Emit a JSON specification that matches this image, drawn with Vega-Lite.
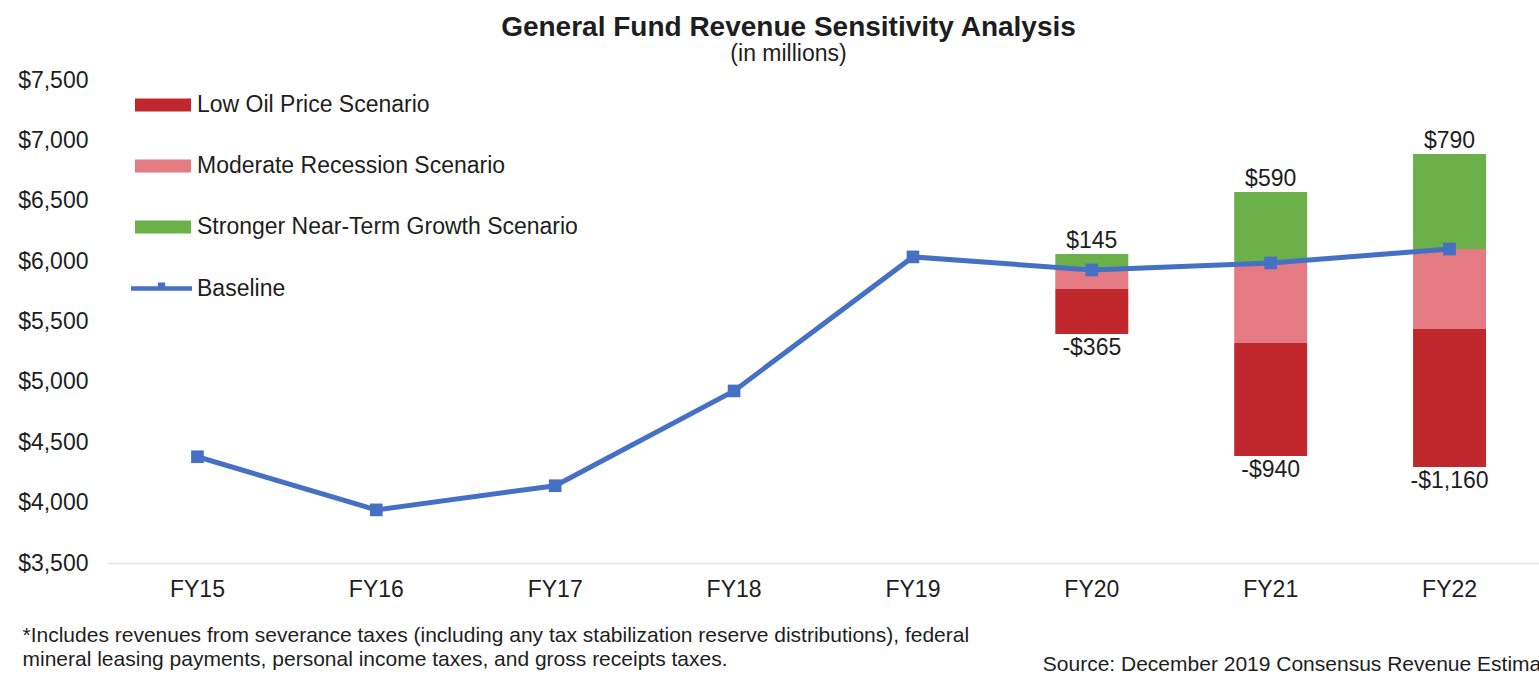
{
  "$schema": "https://vega.github.io/schema/vega-lite/v6.json",
  "width": 1431,
  "height": 483,
  "autosize": {"type": "none"},
  "padding": {"left": 108, "top": 80, "right": 0, "bottom": 113},
  "background": "white",
  "config": {
    "font": "Liberation Sans",
    "view": {"stroke": null}
  },
  "title": {
    "text": "General Fund Revenue Sensitivity Analysis",
    "subtitle": "(in millions)",
    "fontSize": 28,
    "fontWeight": "bold",
    "subtitleFontSize": 23,
    "color": "#1e1e1e",
    "subtitleColor": "#1e1e1e",
    "anchor": "middle",
    "frame": "group",
    "offset": 3,
    "dx": -35,
    "subtitlePadding": 1
  },
  "datasets": {
    "baseline": [
      {"year": "FY15", "value": 4380, "series": "Baseline"},
      {"year": "FY16", "value": 3940, "series": "Baseline"},
      {"year": "FY17", "value": 4140, "series": "Baseline"},
      {"year": "FY18", "value": 4925, "series": "Baseline"},
      {"year": "FY19", "value": 6035, "series": "Baseline"},
      {"year": "FY20", "value": 5927, "series": "Baseline"},
      {"year": "FY21", "value": 5985, "series": "Baseline"},
      {"year": "FY22", "value": 6100, "series": "Baseline"}
    ],
    "bars": [
      {"year": "FY20", "scenario": "Stronger Near-Term Growth Scenario", "low": 5927, "high": 6059},
      {"year": "FY20", "scenario": "Moderate Recession Scenario", "low": 5769, "high": 5927},
      {"year": "FY20", "scenario": "Low Oil Price Scenario", "low": 5396, "high": 5769},
      {"year": "FY21", "scenario": "Stronger Near-Term Growth Scenario", "low": 5985, "high": 6572},
      {"year": "FY21", "scenario": "Moderate Recession Scenario", "low": 5322, "high": 5985},
      {"year": "FY21", "scenario": "Low Oil Price Scenario", "low": 4386, "high": 5322},
      {"year": "FY22", "scenario": "Stronger Near-Term Growth Scenario", "low": 6100, "high": 6887},
      {"year": "FY22", "scenario": "Moderate Recession Scenario", "low": 5438, "high": 6100},
      {"year": "FY22", "scenario": "Low Oil Price Scenario", "low": 4295, "high": 5438}
    ],
    "labels": [
      {"year": "FY20", "top": 6059, "bottom": 5396, "up": "$145", "down": "-$365"},
      {"year": "FY21", "top": 6572, "bottom": 4386, "up": "$590", "down": "-$940"},
      {"year": "FY22", "top": 6887, "bottom": 4295, "up": "$790", "down": "-$1,160"}
    ],
    "notes": [
      {"year": "FY20", "value": 3500, "note": "Source: December 2019 Consensus Revenue Estimates"}
    ]
  },
  "layer": [
    {
      "data": {"name": "bars"},
      "mark": {"type": "bar", "width": {"band": 0.408}},
      "encoding": {
        "x": {
          "field": "year",
          "type": "nominal",
          "sort": ["FY15", "FY16", "FY17", "FY18", "FY19", "FY20", "FY21", "FY22"],
          "scale": {"domain": ["FY15", "FY16", "FY17", "FY18", "FY19", "FY20", "FY21", "FY22"], "paddingInner": 0, "paddingOuter": 0},
          "axis": {
            "labelAngle": 0,
            "labelFontSize": 23,
            "labelColor": "#1e1e1e",
            "labelPadding": 15,
            "ticks": false,
            "domain": true,
            "domainColor": "#e2e2e2",
            "domainWidth": 1.5,
            "title": ["*Includes revenues from severance taxes (including any tax stabilization reserve distributions), federal", "mineral leasing payments, personal income taxes, and gross receipts taxes."],
            "titleFontSize": 21,
            "titleFontWeight": "normal",
            "titleColor": "#1e1e1e",
            "titleAnchor": "start",
            "titleAlign": "left",
            "titleBaseline": "top",
            "titleLineHeight": 24,
            "titleX": -86,
            "titleY": 61,
            "titleLimit": 0
          }
        },
        "y": {
          "field": "low",
          "type": "quantitative",
          "scale": {"domain": [3500, 7500], "nice": false, "zero": false},
          "axis": {
            "values": [3500, 4000, 4500, 5000, 5500, 6000, 6500, 7000, 7500],
            "format": "$,.0f",
            "labelFontSize": 23,
            "labelColor": "#1e1e1e",
            "labelPadding": 20,
            "ticks": false,
            "domain": false,
            "grid": false,
            "title": null
          }
        },
        "y2": {"field": "high"},
        "fill": {
          "field": "scenario",
          "type": "nominal",
          "scale": {
            "domain": ["Low Oil Price Scenario", "Moderate Recession Scenario", "Stronger Near-Term Growth Scenario"],
            "range": ["#C0282E", "#E47B83", "#6CB04A"]
          },
          "legend": {
            "orient": "none",
            "legendX": 27,
            "legendY": -3,
            "title": null,
            "padding": 0,
            "symbolType": "M-1,-0.23L1,-0.23L1,0.23L-1,0.23Z",
            "symbolSize": 3136,
            "symbolStrokeWidth": 0,
            "labelFontSize": 23,
            "labelColor": "#1e1e1e",
            "labelOffset": 6,
            "labelLimit": 0,
            "rowPadding": 21
          }
        }
      }
    },
    {
      "data": {"name": "baseline"},
      "mark": {"type": "line", "strokeWidth": 5},
      "encoding": {
        "x": {"field": "year", "type": "nominal"},
        "y": {"field": "value", "type": "quantitative"},
        "stroke": {
          "field": "series",
          "type": "nominal",
          "scale": {"domain": ["Baseline"], "range": ["#4570C4"]},
          "legend": {
            "orient": "none",
            "legendX": 23,
            "legendY": 178,
            "title": null,
            "padding": 0,
            "symbolType": "M-1,-0.07L1,-0.07L1,0.07L-1,0.07Z M-0.12,-0.2L0.12,-0.2L0.12,0L-0.12,0Z",
            "symbolSize": 3721,
            "labelFontSize": 23,
            "labelColor": "#1e1e1e",
            "labelOffset": 5,
            "labelLimit": 0,
            "encode": {"symbols": {"update": {"fill": {"value": "#4570C4"}, "strokeWidth": {"value": 0}}}}
          }
        }
      }
    },
    {
      "data": {"name": "baseline"},
      "mark": {"type": "square", "size": 160, "color": "#4570C4", "opacity": 1},
      "encoding": {
        "x": {"field": "year", "type": "nominal"},
        "y": {"field": "value", "type": "quantitative"}
      }
    },
    {
      "data": {"name": "labels"},
      "mark": {"type": "text", "fontSize": 23, "color": "#1e1e1e", "baseline": "alphabetic", "dy": -6},
      "encoding": {
        "x": {"field": "year", "type": "nominal"},
        "y": {"field": "top", "type": "quantitative"},
        "text": {"field": "up"}
      }
    },
    {
      "data": {"name": "labels"},
      "mark": {"type": "text", "fontSize": 23, "color": "#1e1e1e", "baseline": "alphabetic", "dy": 21},
      "encoding": {
        "x": {"field": "year", "type": "nominal"},
        "y": {"field": "bottom", "type": "quantitative"},
        "text": {"field": "down"}
      }
    },
    {
      "data": {"name": "notes"},
      "mark": {"type": "text", "fontSize": 21, "color": "#1e1e1e", "align": "left", "baseline": "middle", "dx": -49, "dy": 102},
      "encoding": {
        "x": {"field": "year", "type": "nominal"},
        "y": {"field": "value", "type": "quantitative"},
        "text": {"field": "note"}
      }
    }
  ]
}
